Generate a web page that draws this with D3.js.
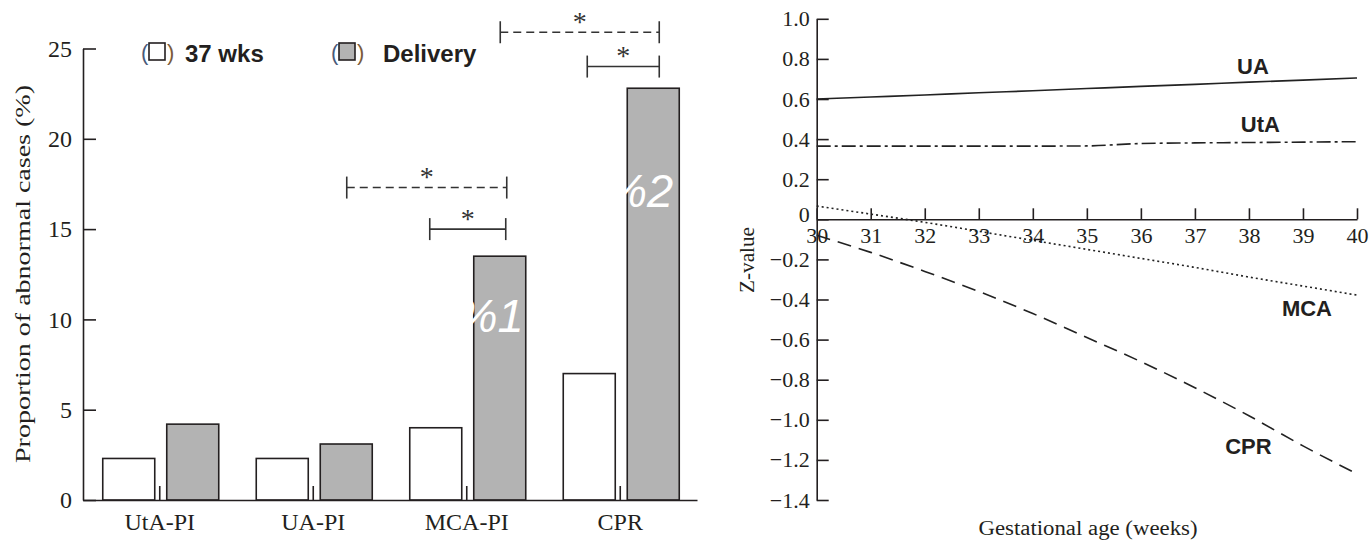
<!DOCTYPE html>
<html>
<head>
<meta charset="utf-8">
<script src="https://cdn.jsdelivr.net/npm/d3@7"></script>
<style>
  html, body { margin: 0; padding: 0; background: #fff; }
  svg { display: block; }
  .serif { font-family: "Liberation Serif", "Times New Roman", serif; }
  .sans { font-family: "Liberation Sans", Arial, sans-serif; }
</style>
</head>
<body>
<svg id="fig" width="1370" height="544"></svg>
<script>
// ---- Panel A: proportion of abnormal cases ----
const categories = ["UtA-PI", "UA-PI", "MCA-PI", "CPR"];
const seriesNames = ["37 wks", "Delivery"];
const at37wks = [2.3, 2.3, 4.0, 7.0];
const atDelivery = [4.2, 3.1, 13.5, 22.8];
const barTicks = [0, 5, 10, 15, 20, 25];

// ---- Panel B: Z-values across gestation ----
const weeks = [30, 31, 32, 33, 34, 35, 36, 37, 38, 39, 40];
const zUA  = [0.600, 0.610, 0.620, 0.631, 0.641, 0.652, 0.663, 0.673, 0.684, 0.694, 0.705];
const zUtA = [0.365, 0.365, 0.365, 0.365, 0.365, 0.366, 0.378, 0.381, 0.383, 0.385, 0.387];
const zMCA = [0.066, 0.026, -0.015, -0.060, -0.105, -0.150, -0.195, -0.240, -0.288, -0.333, -0.378];
const zCPR = [-0.08, -0.165, -0.26, -0.36, -0.47, -0.59, -0.71, -0.84, -0.98, -1.13, -1.27];
const zTicks = [1.0, 0.8, 0.6, 0.4, 0.2, 0, -0.2, -0.4, -0.6, -0.8, -1.0, -1.2, -1.4];
const lineNames = ["UA", "UtA", "MCA", "CPR"];

const INK = "#231f20";
const GREY = "#b3b3b3";
const svg = d3.select("#fig");

// ================= Panel A =================
const xA = d3.scaleBand().domain(categories).range([83, 697]).paddingInner(0).paddingOuter(0);
const subA = d3.scaleBand().domain(seriesNames).range([-57, 59]).paddingInner(0.1875).paddingOuter(0);
const yA = d3.scaleLinear().domain([0, 25]).range([500, 48.5]);
const centerA = c => xA(c) + xA.bandwidth() / 2;

const gA = svg.append("g");

// bars
const barRows = categories.map((c, i) => [
  { cat: c, series: seriesNames[0], value: at37wks[i] },
  { cat: c, series: seriesNames[1], value: atDelivery[i] }
]).flat();

gA.selectAll("rect.bar").data(barRows).join("rect")
  .attr("class", "bar")
  .attr("x", d => centerA(d.cat) + subA(d.series))
  .attr("width", subA.bandwidth())
  .attr("y", d => yA(d.value))
  .attr("height", d => yA(0) - yA(d.value))
  .attr("fill", d => d.series === seriesNames[0] ? "#fff" : GREY)
  .attr("stroke", INK)
  .attr("stroke-width", 1.6);

// overprinted markers inside the delivery bars
const barMarks = [
  { cat: "MCA-PI", text: "%1", at: 9.3, inset: 2 },
  { cat: "CPR", text: "%2", at: 16.2, inset: 6 }
];
gA.selectAll("text.mark").data(barMarks).join("text")
  .attr("class", "mark sans")
  .attr("x", d => centerA(d.cat) + subA(seriesNames[1]) + subA.bandwidth() - d.inset)
  .attr("y", d => yA(d.at))
  .attr("text-anchor", "end")
  .attr("font-style", "italic")
  .attr("font-size", 47)
  .attr("fill", "#fff")
  .text(d => d.text);

// y axis
const axA_y = gA.append("g").attr("transform", "translate(83,0)")
  .call(d3.axisLeft(yA).tickValues(barTicks).tickSizeInner(-13).tickSizeOuter(0).tickPadding(11).tickFormat(d3.format("d")));
// x axis
const axA_x = gA.append("g").attr("transform", "translate(0,500)")
  .call(d3.axisBottom(xA).tickSizeInner(-14).tickSizeOuter(0).tickPadding(13));

[axA_y, axA_x].forEach(ax => {
  ax.select(".domain").attr("stroke", INK).attr("stroke-width", 1.6);
  ax.selectAll(".tick line").attr("stroke", INK).attr("stroke-width", 1.6);
  ax.selectAll(".tick text").attr("class", "serif").attr("fill", INK)
    .attr("font-size", 24);
  ax.attr("font-family", null).attr("font-size", null);
});

gA.append("text").attr("class", "serif")
  .attr("transform", "translate(30,274) rotate(-90)")
  .attr("text-anchor", "middle").attr("font-size", 22).attr("fill", INK)
  .attr("textLength", 378).attr("lengthAdjust", "spacingAndGlyphs")
  .text("Proportion of abnormal cases (%)");

// legend
const legend = [
  { name: seriesNames[0], fill: "#fff", x: 141 },
  { name: seriesNames[1], fill: GREY, x: 331 }
];
const lg = gA.selectAll("g.lg").data(legend).join("g").attr("class", "lg")
  .attr("transform", d => `translate(${d.x},0)`);
lg.append("text").attr("class", "sans").attr("x", 0).attr("y", 60)
  .attr("font-size", 22).attr("fill", "#4a5a7a").text("(");
lg.append("rect").attr("x", 8).attr("y", 43).attr("width", 16).attr("height", 17)
  .attr("fill", d => d.fill).attr("stroke", INK).attr("stroke-width", 1.6);
lg.append("text").attr("class", "sans").attr("x", 26).attr("y", 60)
  .attr("font-size", 22).attr("fill", "#7a5a3a").text(")");
lg.append("text").attr("class", "sans").attr("x", (d, i) => i === 0 ? 44 : 52).attr("y", 62)
  .attr("font-size", 24).attr("font-weight", "bold").attr("fill", INK)
  .text(d => d.name);

// significance brackets
const brackets = [
  { cat: "MCA-PI", from: -120, to: 40, level: 17.3, dashed: true },
  { cat: "MCA-PI", from: -37, to: 39, level: 15.0, dashed: false },
  { cat: "CPR", from: -120, to: 39, level: 25.9, dashed: true },
  { cat: "CPR", from: -33, to: 39, level: 24.0, dashed: false }
];
const br = gA.selectAll("g.br").data(brackets).join("g").attr("class", "br");
br.append("line")
  .attr("x1", d => centerA(d.cat) + d.from).attr("x2", d => centerA(d.cat) + d.to)
  .attr("y1", d => yA(d.level)).attr("y2", d => yA(d.level))
  .attr("stroke", "#333").attr("stroke-width", 1.6)
  .attr("stroke-dasharray", d => d.dashed ? "8,5" : null);
["from", "to"].forEach(k => {
  br.append("line")
    .attr("x1", d => centerA(d.cat) + d[k]).attr("x2", d => centerA(d.cat) + d[k])
    .attr("y1", d => yA(d.level) - 11).attr("y2", d => yA(d.level) + 11)
    .attr("stroke", "#333").attr("stroke-width", 1.6);
});
br.append("text").attr("class", "serif")
  .attr("x", d => centerA(d.cat) + (d.from + d.to) / 2)
  .attr("y", d => yA(d.level) - 15 + 0.48 * 28)
  .attr("text-anchor", "middle").attr("font-size", 28).attr("fill", "#333")
  .text("*");

// ================= Panel B =================
const xB = d3.scaleLinear().domain([30, 40]).range([816.7, 1357]);
const yB = d3.scaleLinear().domain([-1.4, 1.0]).range([500, 18.8]);
const gB = svg.append("g");

const fmtZ = d => d === 0 ? "0" : (d < 0 ? "\u2212" + (-d).toFixed(1) : d.toFixed(1));

const axB_y = gB.append("g").attr("transform", `translate(${xB(30)},0)`)
  .call(d3.axisLeft(yB).tickValues(zTicks).tickSizeInner(-12).tickSizeOuter(0).tickPadding(7).tickFormat(fmtZ));
const axB_x = gB.append("g").attr("transform", `translate(0,${yB(0)})`)
  .call(d3.axisBottom(xB).tickValues(weeks).tickSizeInner(-11).tickSizeOuter(0).tickPadding(8).tickFormat(d3.format("d")));

[axB_y, axB_x].forEach(ax => {
  ax.select(".domain").attr("stroke", INK).attr("stroke-width", 1.6);
  ax.selectAll(".tick line").attr("stroke", INK).attr("stroke-width", 1.6);
  ax.selectAll(".tick text").attr("class", "serif").attr("fill", INK)
    .attr("font-size", 22);
  ax.attr("font-family", null).attr("font-size", null);
});
// the zero label sits just above the week labels
axB_y.selectAll(".tick text").filter(d => d === 0).attr("dy", "0.1em");

const series = [
  { name: "UA", values: zUA, dash: null },
  { name: "UtA", values: zUtA, dash: "14,4,3,4" },
  { name: "MCA", values: zMCA, dash: "2,3" },
  { name: "CPR", values: zCPR, dash: "14,8" }
];
const line = d3.line().x(d => xB(d[0])).y(d => yB(d[1])).curve(d3.curveMonotoneX);
gB.selectAll("path.series").data(series).join("path")
  .attr("class", "series")
  .attr("d", s => line(weeks.map((w, i) => [w, s.values[i]])))
  .attr("fill", "none").attr("stroke", "#222").attr("stroke-width", 1.6)
  .attr("stroke-dasharray", s => s.dash);

// curve names
const namePlace = { UA: [37.78, 0.727], UtA: [37.85, 0.435], MCA: [38.61, -0.482], CPR: [37.56, -1.17] };
gB.selectAll("text.lname").data(lineNames).join("text")
  .attr("class", "lname sans")
  .attr("x", n => xB(namePlace[n][0])).attr("y", n => yB(namePlace[n][1]))
  .attr("font-size", 22).attr("font-weight", "bold").attr("fill", INK)
  .text(n => n);

gB.append("text").attr("class", "serif")
  .attr("x", 1088).attr("y", 535).attr("text-anchor", "middle")
  .attr("font-size", 20).attr("fill", INK)
  .attr("textLength", 219).attr("lengthAdjust", "spacingAndGlyphs")
  .text("Gestational age (weeks)");

gB.append("text").attr("class", "serif")
  .attr("transform", "translate(754,260) rotate(-90)")
  .attr("text-anchor", "middle").attr("font-size", 20).attr("fill", INK)
  .attr("textLength", 66).attr("lengthAdjust", "spacingAndGlyphs")
  .text("Z-value");
</script>
</body>
</html>
